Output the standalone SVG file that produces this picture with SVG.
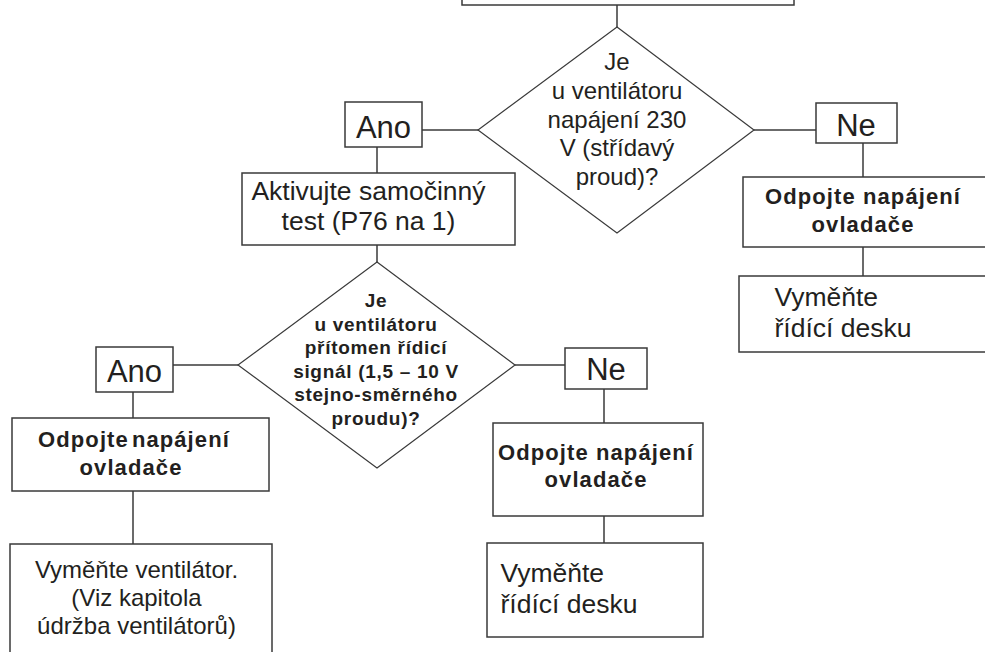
<svg xmlns="http://www.w3.org/2000/svg" width="985" height="652" viewBox="0 0 985 652">
<style>
  .box { fill: #ffffff; stroke: #3a3a3a; stroke-width: 1.5; }
  .dia { fill: #ffffff; stroke: #3a3a3a; stroke-width: 1.2; }
  .con { stroke: #3a3a3a; stroke-width: 1.5; fill: none; }
  text { font-family: "Liberation Sans", Arial, Helvetica, sans-serif; fill: #231f20; }
  .lbl { font-size: 31px; text-anchor: middle; }
  .reg { font-size: 24px; text-anchor: middle; }
  .big { font-size: 26.5px; }
  .bd { font-size: 22px; font-weight: bold; letter-spacing: 1.1px; text-anchor: middle; }
  .bds { font-size: 19px; font-weight: bold; letter-spacing: 0.7px; text-anchor: middle; }
</style>
<rect x="0" y="0" width="985" height="652" fill="#ffffff"/>
<g id="connectors">
  <line class="con" x1="617" y1="5" x2="617" y2="27"/>
  <line class="con" x1="422" y1="130" x2="478" y2="130"/>
  <line class="con" x1="754" y1="130" x2="816" y2="130"/>
  <line class="con" x1="377" y1="147" x2="377" y2="173"/>
  <line class="con" x1="863" y1="143" x2="863" y2="177"/>
  <line class="con" x1="863" y1="247" x2="863" y2="276"/>
  <line class="con" x1="377" y1="245" x2="377" y2="262"/>
  <line class="con" x1="173" y1="365" x2="238" y2="365"/>
  <line class="con" x1="515" y1="365" x2="565" y2="365"/>
  <line class="con" x1="133" y1="392" x2="133" y2="418"/>
  <line class="con" x1="133" y1="491" x2="133" y2="544"/>
  <line class="con" x1="604" y1="389" x2="604" y2="423"/>
  <line class="con" x1="604" y1="516" x2="604" y2="543"/>
</g>
<g id="top">
  <rect class="box" x="462" y="-20" width="332" height="25"/>
</g>
<g id="d1">
  <polygon class="dia" points="617,27 754,130 617,233 478,130"/>
  <text class="reg" x="617" y="70">Je</text>
  <text class="reg" x="617" y="98.8">u ventilátoru</text>
  <text class="reg" x="617" y="127.6">napájení 230</text>
  <text class="reg" x="617" y="156.4">V (střídavý</text>
  <text class="reg" x="617" y="185.2">proud)?</text>
</g>
<g id="ano1">
  <rect class="box" x="345" y="102" width="77" height="45"/>
  <text class="lbl" x="383.5" y="138">Ano</text>
</g>
<g id="ne1">
  <rect class="box" x="816" y="103" width="81" height="40"/>
  <text class="lbl" x="856" y="136">Ne</text>
</g>
<g id="aktivujte">
  <rect class="box" x="242" y="173" width="273" height="72"/>
  <text class="big" x="368.5" y="200" text-anchor="middle">Aktivujte samočinný</text>
  <text class="big" x="368.5" y="230" text-anchor="middle">test (P76 na 1)</text>
</g>
<g id="odpojte_right">
  <rect class="box" x="743" y="177" width="262" height="70"/>
  <text class="bd" x="863" y="204">Odpojte napájení</text>
  <text class="bd" x="863" y="232">ovladače</text>
</g>
<g id="vymente_right">
  <rect class="box" x="739" y="276" width="266" height="76"/>
  <text class="big" x="774.5" y="306" font-size="26">Vyměňte</text>
  <text class="big" x="774.5" y="336.5" font-size="26">řídící desku</text>
</g>
<g id="d2">
  <polygon class="dia" points="377,262 515,365 377,468 238,365"/>
  <text class="bds" x="376" y="307">Je</text>
  <text class="bds" x="376" y="330.5">u ventilátoru</text>
  <text class="bds" x="376" y="354">přítomen řídicí</text>
  <text class="bds" x="376" y="377.5">signál (1,5 – 10 V</text>
  <text class="bds" x="376" y="401">stejno-směrného</text>
  <text class="bds" x="376" y="424.5">proudu)?</text>
</g>
<g id="ano2">
  <rect class="box" x="96" y="347" width="77" height="45"/>
  <text class="lbl" x="134.5" y="381.5">Ano</text>
</g>
<g id="ne2">
  <rect class="box" x="565" y="348" width="82" height="41"/>
  <text class="lbl" x="606" y="380">Ne</text>
</g>
<g id="odpojte_left">
  <rect class="box" x="12" y="418" width="257" height="73"/>
  <text class="bd" x="134" y="446.5">Odpojte<tspan dx="3">napájení</tspan></text>
  <text class="bd" x="131" y="474.5">ovladače</text>
</g>
<g id="vymente_left">
  <rect class="box" x="10" y="544" width="262" height="130"/>
  <text class="reg" x="136.5" y="578">Vyměňte ventilátor.</text>
  <text class="reg" x="136.5" y="606">(Viz kapitola</text>
  <text class="reg" x="136.5" y="633.5">údržba ventilátorů)</text>
</g>
<g id="odpojte_mid">
  <rect class="box" x="493" y="423" width="210" height="93"/>
  <text class="bd" x="596" y="459.5">Odpojte napájení</text>
  <text class="bd" x="596" y="486.5">ovladače</text>
</g>
<g id="vymente_mid">
  <rect class="box" x="487" y="543" width="216" height="94"/>
  <text class="big" x="500.5" y="582" font-size="26">Vyměňte</text>
  <text class="big" x="500.5" y="612.5" font-size="26">řídící desku</text>
</g>
</svg>
